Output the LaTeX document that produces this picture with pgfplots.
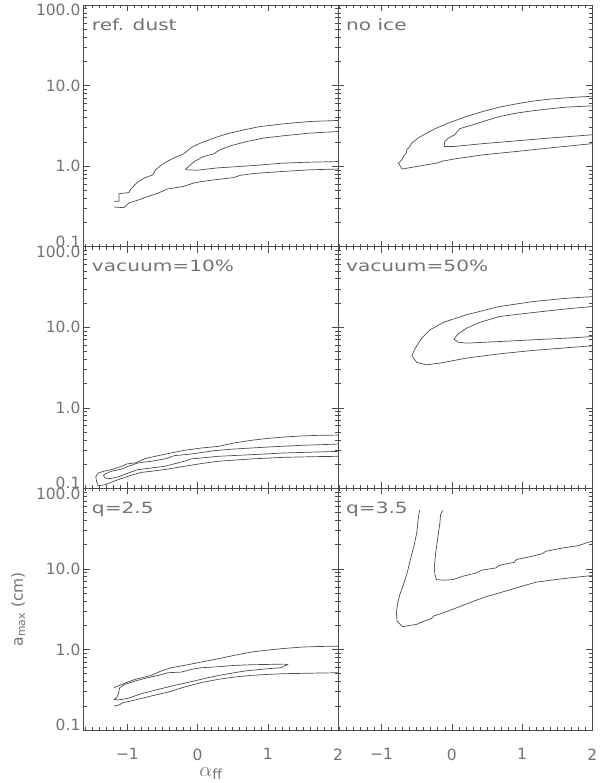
\documentclass[border=0pt]{standalone}
\usepackage{pgfplots}
\pgfplotsset{compat=1.18}
\usepgfplotslibrary{groupplots}
\usetikzlibrary{calc}
\usepackage{graphicx}
\usepackage{fontspec}
\setmainfont{DejaVu Sans}
\definecolor{ink}{gray}{0.30}
\definecolor{txt}{gray}{0.45}
\tikzset{cont/.style={draw=ink, line width=0.7pt, mark=none}}
\newcommand{\lab}[1]{\scalebox{1.3}[1]{#1}}
\newcommand{\yl}[2]{\smash{\raisebox{#1}{#2}}}

\begin{document}
\begin{tikzpicture}
\begin{groupplot}[
  group style={group size=2 by 3, horizontal sep=0pt, vertical sep=0pt,
    xticklabels at=edge bottom, yticklabels at=edge left},
  width=254.5pt, height=242pt, scale only axis,
  xmin=-1.62, xmax=2, ymode=log, ymin=0.1, ymax=100,
  xtick={-1,0,1,2}, xticklabels={−1,0,1,2},
  minor xtick={-1.6,-1.5,...,2},
  ytick={0.1,1,10,100},
  yticklabels={\yl{-0.5pt}{0.1},\yl{-5.5pt}{1.0},\yl{-5.5pt}{10.0},\yl{-11pt}{100.0}},
  minor ytick={0.2,0.3,0.4,0.5,0.6,0.7,0.8,0.9,2,3,4,5,6,7,8,9,20,30,40,50,60,70,80,90},
  tick align=inside,
  major tick length=6pt, minor tick length=3pt,
  every tick/.style={ink, line width=0.6pt},
  axis line style={ink, line width=0.8pt},
  tick label style={font=\fontsize{15.5}{16}\selectfont, text=txt},
  xticklabel style={yshift=-15pt},
  label style={font=\fontsize{15.5}{16}\selectfont, text=txt},
  ylabel shift=4pt,
  xlabel style={font=\fontsize{20}{21}\selectfont, yshift=0pt},
]
% ref. dust
\nextgroupplot[xticklabels={}]
\addplot[cont] coordinates {(-1.19,0.366)(-1.12,0.366)(-1.12,0.455)(-0.98,0.47)(-0.95,0.52)(-0.86,0.63)(-0.76,0.71)(-0.64,0.78)(-0.60,0.90)(-0.48,1.09)(-0.34,1.26)(-0.20,1.42)(-0.08,1.72)(0.04,1.93)(0.23,2.23)(0.42,2.52)(0.66,2.82)(0.89,3.10)(1.22,3.35)(1.60,3.58)(2.00,3.69)};
\addplot[cont] coordinates {(-1.19,0.311)(-1.05,0.305)(-0.98,0.349)(-0.86,0.376)(-0.71,0.42)(-0.57,0.46)(-0.43,0.52)(-0.20,0.56)(-0.05,0.62)(0.14,0.66)(0.51,0.72)(0.61,0.77)(0.80,0.81)(1.22,0.86)(1.60,0.90)(2.00,0.92)};
\addplot[cont] coordinates {(2.00,2.69)(1.60,2.57)(1.22,2.38)(0.94,2.23)(0.70,2.02)(0.47,1.79)(0.32,1.60)(0.23,1.42)(0.09,1.32)(-0.05,1.14)(-0.10,1.04)(-0.17,0.92)(-0.15,0.90)(-0.01,0.89)(0.28,0.95)(0.75,1.01)(1.22,1.09)(1.60,1.12)(2.00,1.14)};
\node[anchor=north west, inner sep=0pt, font=\fontsize{15.5}{16}\selectfont, text=txt] at (rel axis cs:0.031,0.946) {\lab{ref. dust}};

% no ice
\nextgroupplot[xticklabels={}, yticklabels={}]
\addplot[cont] coordinates {(2.00,7.38)(1.63,7.04)(1.39,6.78)(1.15,6.40)(0.92,5.93)(0.68,5.40)(0.44,4.76)(0.21,4.13)(-0.03,3.48)(-0.22,2.96)(-0.36,2.57)(-0.48,2.23)(-0.57,1.93)(-0.60,1.75)(-0.64,1.60)(-0.65,1.45)(-0.69,1.32)(-0.71,1.20)(-0.76,1.09)(-0.71,0.92)(-0.50,0.99)(-0.22,1.09)(-0.12,1.16)(0.07,1.24)(0.44,1.38)(0.92,1.52)(1.39,1.68)(2.00,1.90)};
\addplot[cont] coordinates {(2.00,5.60)(1.63,5.40)(1.39,5.14)(1.15,4.86)(0.92,4.55)(0.68,4.13)(0.49,3.68)(0.30,3.26)(0.11,2.91)(0.04,2.45)(-0.05,2.23)(-0.10,2.02)(-0.11,1.75)(0.02,1.75)(0.44,1.90)(0.92,2.06)(1.39,2.23)(2.00,2.45)};
\node[anchor=north west, inner sep=0pt, font=\fontsize{15.5}{16}\selectfont, text=txt] at (rel axis cs:0.031,0.946) {\lab{no ice}};

% vacuum=10%
\nextgroupplot[xticklabels={}]
\addplot[cont] coordinates {(2.00,0.459)(1.71,0.455)(1.47,0.447)(1.23,0.434)(0.996,0.417)(0.76,0.395)(0.52,0.366)(0.29,0.332)(0.05,0.317)(-0.19,0.297)(-0.38,0.275)(-0.56,0.255)(-0.75,0.234)(-0.89,0.207)(-1.01,0.201)(-1.08,0.188)(-1.23,0.171)(-1.34,0.163)(-1.415,0.155)(-1.45,0.141)(-1.44,0.122)(-1.415,0.108)(-1.32,0.111)(-1.20,0.122)(-1.06,0.135)(-0.92,0.148)(-0.80,0.158)(-0.66,0.163)(-0.42,0.174)(-0.19,0.188)(0.05,0.203)(0.29,0.217)(0.76,0.232)(1.23,0.243)(1.71,0.248)(2.00,0.250)};
\addplot[cont] coordinates {(2.00,0.355)(1.47,0.342)(0.996,0.326)(0.52,0.308)(0.24,0.294)(-0.09,0.267)(-0.33,0.255)(-0.47,0.232)(-0.66,0.217)(-0.85,0.207)(-0.99,0.188)(-1.08,0.174)(-1.23,0.163)(-1.32,0.151)(-1.34,0.144)(-1.32,0.135)(-1.25,0.132)(-1.13,0.139)(-0.99,0.155)(-0.85,0.171)(-0.66,0.179)(-0.47,0.188)(-0.19,0.217)(-0.09,0.232)(0.29,0.250)(0.76,0.262)(1.23,0.275)(1.71,0.283)(2.00,0.288)};
\node[anchor=north west, inner sep=0pt, font=\fontsize{15.5}{16}\selectfont, text=txt] at (rel axis cs:0.031,0.946) {\lab{vacuum=10\%}};

% vacuum=50%
\nextgroupplot[xticklabels={}, yticklabels={}]
\addplot[cont] coordinates {(2.00,24.0)(1.63,22.9)(1.15,20.8)(0.68,18.1)(0.21,14.3)(-0.12,11.5)(-0.31,9.29)(-0.43,7.32)(-0.52,5.51)(-0.57,4.42)(-0.50,3.66)(-0.36,3.42)(-0.17,3.59)(0.21,4.14)(0.68,4.68)(1.15,5.15)(1.63,5.56)(2.00,5.89)};
\addplot[cont] coordinates {(2.00,18.1)(1.63,16.9)(1.15,15.2)(0.68,13.6)(0.40,11.5)(0.21,9.74)(0.09,8.28)(0.03,7.12)(0.09,6.53)(0.21,6.35)(0.68,6.65)(1.15,6.98)(1.63,7.32)(2.00,7.67)};
\node[anchor=north west, inner sep=0pt, font=\fontsize{15.5}{16}\selectfont, text=txt] at (rel axis cs:0.031,0.946) {\lab{vacuum=50\%}};

% q=2.5
\nextgroupplot[xlabel={$\alpha_{\mathrm{ff}}$}, ylabel={a\textsubscript{max} (cm)}]
\addplot[cont] coordinates {(-1.19,0.336)(-1.08,0.369)(-0.89,0.426)(-0.66,0.477)(-0.52,0.541)(-0.38,0.594)(-0.19,0.635)(0.05,0.698)(0.29,0.768)(0.52,0.845)(0.76,0.930)(1.00,0.984)(1.23,1.03)(1.47,1.07)(1.71,1.09)(2.00,1.10)};
\addplot[cont] coordinates {(-1.19,0.199)(-1.13,0.203)(-1.06,0.219)(-0.89,0.236)(-0.66,0.265)(-0.42,0.296)(-0.19,0.342)(0.05,0.388)(0.29,0.426)(0.52,0.455)(0.76,0.477)(1.00,0.491)(1.23,0.501)(1.71,0.510)(2.00,0.515)};
\addplot[cont] coordinates {(1.29,0.647)(1.23,0.659)(0.76,0.647)(0.52,0.635)(0.29,0.611)(0.05,0.594)(-0.09,0.567)(-0.23,0.525)(-0.42,0.515)(-0.56,0.477)(-0.75,0.438)(-0.89,0.406)(-1.04,0.369)(-1.11,0.336)(-1.13,0.278)(-1.155,0.252)(-1.19,0.241)(-1.13,0.236)(-0.99,0.248)(-0.80,0.283)(-0.56,0.320)(-0.33,0.359)(-0.09,0.399)(0.145,0.447)(0.38,0.491)(0.67,0.541)(1.00,0.578)(1.19,0.594)(1.23,0.623)(1.29,0.647)};
\node[anchor=north west, inner sep=0pt, font=\fontsize{15.5}{16}\selectfont, text=txt] at (rel axis cs:0.031,0.946) {\lab{q=2.5}};

% q=3.5
\nextgroupplot[yticklabels={}]
\addplot[cont] coordinates {(-0.46,53.5)(-0.48,40.9)(-0.50,28.0)(-0.54,19.1)(-0.59,13.1)(-0.63,9.37)(-0.68,6.72)(-0.74,4.82)(-0.77,3.80)(-0.79,2.86)(-0.78,2.25)(-0.70,1.92)(-0.60,1.99)(-0.50,2.05)(-0.43,2.19)(-0.29,2.43)(-0.26,2.60)(-0.12,2.86)(0.07,3.30)(0.25,3.80)(0.44,4.38)(0.68,5.05)(0.92,5.82)(1.20,6.85)(1.48,7.39)(1.77,7.90)(2.00,8.28)};
\addplot[cont] coordinates {(-0.13,53.5)(-0.16,47.2)(-0.17,37.2)(-0.19,28.0)(-0.21,21.0)(-0.23,15.8)(-0.25,10.3)(-0.24,8.53)(-0.22,7.39)(-0.12,7.25)(0.02,7.39)(0.16,8.13)(0.35,8.93)(0.42,9.64)(0.63,10.3)(0.68,11.1)(0.89,12.1)(0.92,13.1)(1.10,14.1)(1.29,15.5)(1.34,16.6)(1.58,18.2)(1.81,19.5)(1.91,21.0)(2.00,22.1)};
\node[anchor=north west, inner sep=0pt, font=\fontsize{15.5}{16}\selectfont, text=txt] at (rel axis cs:0.031,0.946) {\lab{q=3.5}};
\end{groupplot}
\pgfresetboundingbox
\path ($(group c1r3.south west)+(-84pt,-53pt)$) rectangle ($(group c2r1.north east)+(7pt,5pt)$);
\end{tikzpicture}
\end{document}
